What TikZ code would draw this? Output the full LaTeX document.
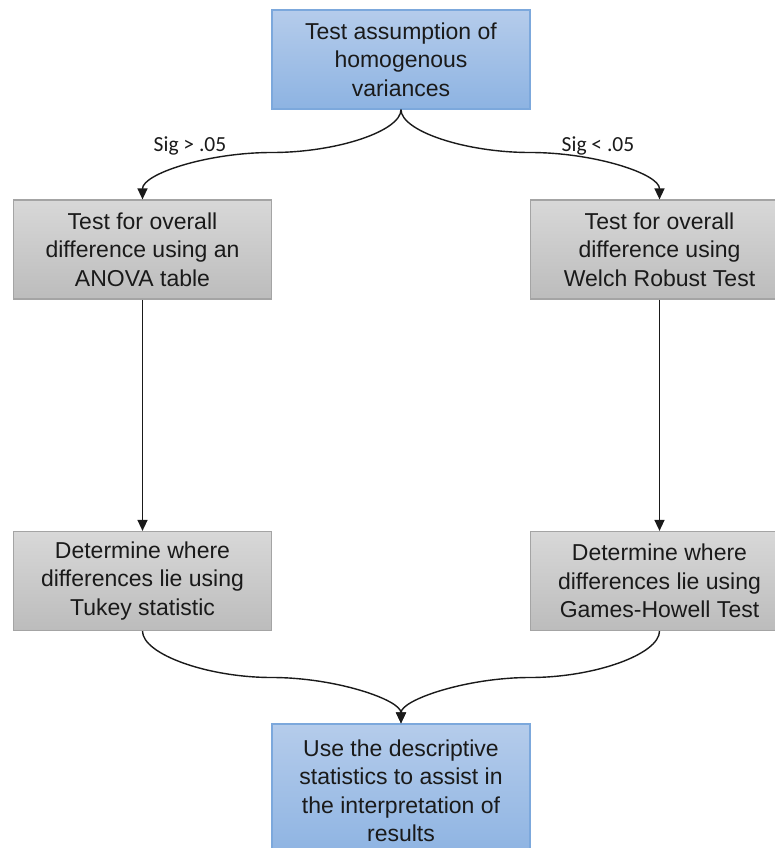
\documentclass[tikz,border=0pt]{standalone}
\usepackage{fontspec}
\setmainfont{Liberation Sans}
\newfontfamily\labelfont{Carlito}
\usetikzlibrary{arrows.meta}

\definecolor{txt}{HTML}{1A1A1A}
\definecolor{blueTop}{HTML}{B5CCEB}
\definecolor{blueBot}{HTML}{8DB3E2}
\definecolor{blueLine}{HTML}{7CA8DC}
\definecolor{greyTop}{HTML}{D8D8D8}
\definecolor{greyBot}{HTML}{BCBCBC}
\definecolor{greyLine}{HTML}{A4A4A4}
\definecolor{wire}{HTML}{1A1A1A}

\tikzset{
  boxtext/.style={align=center, text=txt, inner sep=0pt,
    font=\fontsize{23}{28.5}\selectfont},
  bluebox/.style={boxtext, draw=blueLine, line width=1.2pt,
    top color=blueTop, bottom color=blueBot,
    minimum width=258pt, minimum height=99pt},
  greybox/.style={boxtext, draw=greyLine, line width=1.2pt,
    top color=greyTop, bottom color=greyBot,
    minimum width=258pt, minimum height=99pt},
  flow/.style={draw=wire, line width=1.4pt,
    -{Triangle[length=11pt,width=10pt]}},
  siglabel/.style={text=txt, inner sep=0pt, anchor=base,
    font=\labelfont\fontsize{21.5}{24}\selectfont}
}

\begin{document}
\begin{tikzpicture}[x=1pt,y=-1pt]
  \useasboundingbox (0,0) rectangle (775,848);

  % boxes
  \node[bluebox] (top) at (401,59.5)
    {Test assumption of\\homogenous\\variances};
  \node[greybox] (anova) at (142.5,249.5)
    {Test for overall\\difference using an\\ANOVA table};
  \node[greybox] (welch) at (659.5,249.5)
    {Test for overall\\difference using\\Welch Robust Test};
  \node[greybox] (tukey) at (142.5,581)
    {Determine where\\differences lie using\\Tukey statistic};
  \node[greybox] (games) at (659.5,581)
    {Determine where\\differences lie using\\Games-Howell Test};
  \node[bluebox, minimum height=134pt] (desc) at (401,791)
    {Use the descriptive\\statistics to assist in\\the interpretation of\\results};

  % branch labels
  \node[siglabel] (sigA) at (190,151.5) {Sig > .05};
  \node[siglabel] (sigB) at (598,151.5) {Sig < .05};

  % curved branches from the variance test
  \draw[flow] (top.south)
    .. controls (401,131) and (337,152.5) .. (272,152.5)
    .. controls (207,152.5) and (142.5,174) .. (anova.north);
  \draw[flow] (top.south)
    .. controls (401,131) and (465,152.5) .. (530,152.5)
    .. controls (595,152.5) and (659.5,174) .. (welch.north);

  % straight links
  \draw[flow] (anova.south) -- (tukey.north);
  \draw[flow] (welch.south) -- (games.north);

  % curved joins into the final step
  \draw[flow] (tukey.south)
    .. controls (142.5,654) and (207,677.5) .. (272,677.5)
    .. controls (336,677.5) and (401,700) .. (desc.north);
  \draw[flow] (games.south)
    .. controls (659.5,654) and (595,677.5) .. (530,677.5)
    .. controls (466,677.5) and (401,700) .. (desc.north);
\end{tikzpicture}
\end{document}
